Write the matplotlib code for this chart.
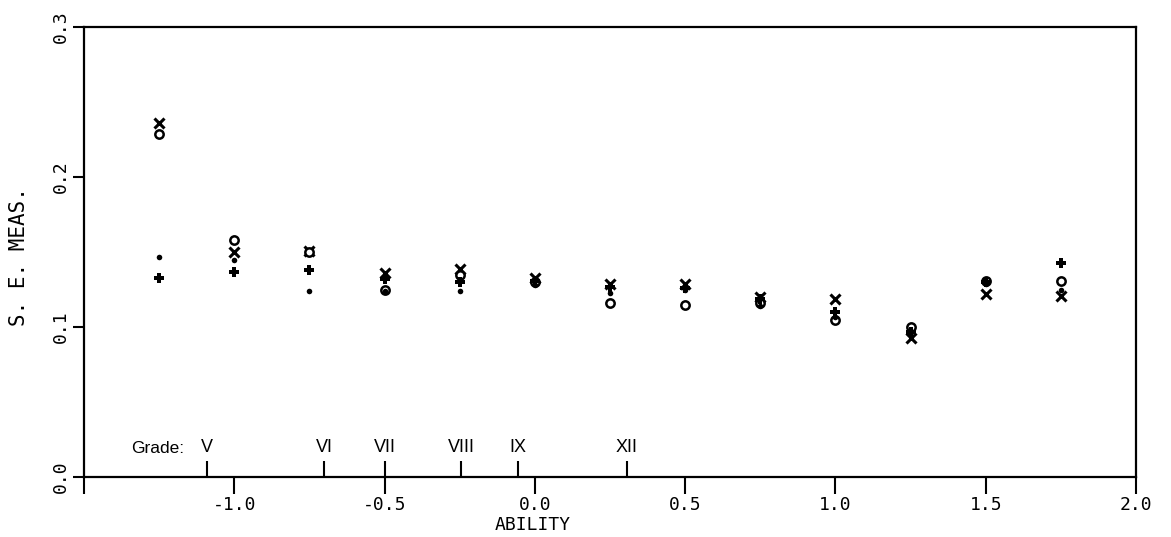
import matplotlib
matplotlib.use("Agg")
import matplotlib.pyplot as plt

# ability points and S.E. of measurement for four samples
ability = [-1.25, -1.0, -0.75, -0.5, -0.25, 0.0, 0.25, 0.5, 0.75, 1.0, 1.25, 1.5, 1.75]
se_x    = [0.236, 0.150, 0.151, 0.136, 0.139, 0.133, 0.129, 0.129, 0.120, 0.119, 0.093, 0.122, 0.121]
se_o    = [0.229, 0.158, 0.150, 0.125, 0.135, 0.130, 0.116, 0.115, 0.116, 0.105, 0.100, 0.131, 0.131]
se_dot  = [0.147, 0.145, 0.124, 0.124, 0.124, 0.128, 0.123, 0.125, 0.114, 0.107, 0.097, 0.129, 0.125]
se_plus = [0.133, 0.137, 0.138, 0.132, 0.130, 0.131, 0.127, 0.126, 0.119, 0.110, 0.097, 0.130, 0.143]

grades = ["V", "VI", "VII", "VIII", "IX", "XII"]
grade_pos = [-1.09, -0.70, -0.50, -0.245, -0.055, 0.305]

xticks = [-1.5, -1.0, -0.5, 0.0, 0.5, 1.0, 1.5, 2.0]
xticklabels = ["", "-1.0", "-0.5", "0.0", "0.5", "1.0", "1.5", "2.0"]
yticks = [0.0, 0.1, 0.2, 0.3]
yticklabels = ["0.0", "0.1", "0.2", "0.3"]

mono = "DejaVu Sans Mono"

fig = plt.figure(figsize=(11.71, 5.37), dpi=100)
ax = fig.add_axes([0.0717, 0.1117, 0.8985, 0.838])

ax.plot(ability, se_x, ls="none", marker="x", ms=6.5, mew=2.2, color="black")
ax.plot(ability, se_o, ls="none", marker="o", ms=6, mew=1.8, mfc="white", mec="black")
ax.plot(ability, se_dot, ls="none", marker="o", ms=4, mew=0, color="black")
ax.plot(ability, se_plus, ls="none", marker="P", ms=7.5, mew=0, color="black")

ax.set_xlim(-1.5, 2.0)
ax.set_ylim(0.0, 0.3)

for s in ax.spines.values():
    s.set_linewidth(1.6)

ax.set_xticks(xticks)
ax.set_xticklabels(xticklabels, fontfamily=mono, fontsize=13)
ax.set_yticks(yticks)
ax.set_yticklabels(yticklabels, fontfamily=mono, fontsize=13, rotation=90, va="center")
ax.tick_params(axis="x", direction="out", length=12, width=1.5, pad=2)
ax.tick_params(axis="y", direction="out", length=8, width=1.5, pad=2)

ax.set_xlabel("ABILITY", fontfamily=mono, fontsize=13)
ax.xaxis.set_label_coords(0.427, -0.087)
ax.set_ylabel("S. E. MEAS.", fontfamily=mono, fontsize=15)
ax.yaxis.set_label_coords(-0.052, 0.49)

# grade markers along the ability axis
ax.vlines(grade_pos, 0.0, 0.011, color="black", lw=1.5)
for g, p in zip(grades, grade_pos):
    ax.text(p, 0.014, g, ha="center", va="bottom", fontsize=13, family="Liberation Sans")
ax.text(-1.165, 0.014, "Grade:", ha="right", va="bottom", fontsize=12.5, family="Liberation Sans")

fig.savefig("out.png", dpi=100)
